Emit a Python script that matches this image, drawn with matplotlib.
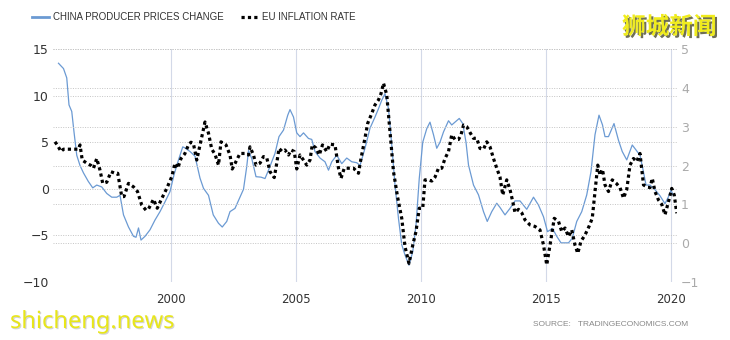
import matplotlib
matplotlib.use('Agg')
import matplotlib.pyplot as plt
import matplotlib.patheffects as pe
from matplotlib.lines import Line2D

# China PPI, yoy % (left axis)
ppi_year = [1995.5, 1995.7, 1995.83, 1995.92, 1996.03, 1996.12, 1996.23, 1996.36, 1996.5, 1996.69,
            1996.87, 1997.03, 1997.23, 1997.43, 1997.63, 1997.83, 1997.96, 1998.1, 1998.3, 1998.5,
            1998.6, 1998.7, 1998.8, 1998.96, 1999.16, 1999.36, 1999.56, 1999.76, 1999.96, 2000.12,
            2000.3, 2000.47, 2000.55, 2000.76, 2000.96, 2001.16, 2001.3, 2001.5, 2001.69, 2001.9,
            2002.05, 2002.23, 2002.36, 2002.56, 2002.76, 2002.9, 2003.03, 2003.1, 2003.23, 2003.4,
            2003.6, 2003.76, 2003.9, 2004.03, 2004.16, 2004.32, 2004.5, 2004.67, 2004.76, 2004.9,
            2005.03, 2005.16, 2005.3, 2005.5, 2005.63, 2005.76, 2005.96, 2006.16, 2006.3, 2006.43,
            2006.63, 2006.83, 2007.03, 2007.23, 2007.43, 2007.56, 2007.76, 2007.96, 2008.16, 2008.3,
            2008.43, 2008.56, 2008.7, 2008.83, 2008.96, 2009.1, 2009.23, 2009.36, 2009.52, 2009.67,
            2009.8, 2009.93, 2010.07, 2010.23, 2010.36, 2010.5, 2010.63, 2010.76, 2010.9, 2011.1,
            2011.23, 2011.36, 2011.53, 2011.67, 2011.8, 2011.9, 2012.1, 2012.3, 2012.5, 2012.65,
            2012.83, 2013.03, 2013.16, 2013.36, 2013.56, 2013.76, 2013.96, 2014.23, 2014.5, 2014.7,
            2014.9, 2015.06, 2015.26, 2015.43, 2015.6, 2015.9, 2016.05, 2016.23, 2016.43, 2016.63,
            2016.8, 2016.96, 2017.12, 2017.26, 2017.36, 2017.5, 2017.72, 2017.9, 2018.05, 2018.23,
            2018.45, 2018.63, 2018.76, 2018.9, 2019.0, 2019.16, 2019.36, 2019.56, 2019.76, 2019.89,
            2020.0, 2020.09]
ppi = [13.47, 12.9, 11.9, 9.0, 8.3, 6.1, 3.6, 2.5, 1.7, 0.8,
       0.1, 0.4, 0.2, -0.5, -0.9, -0.9, -0.7, -2.8, -4.1, -5.1,
       -5.2, -4.2, -5.5, -5.1, -4.4, -3.35, -2.45, -1.4, -0.3, 1.5,
       3.1, 4.5, 4.4, 4.0, 3.5, 1.15, 0.05, -0.7, -2.8, -3.7,
       -4.1, -3.5, -2.45, -2.1, -0.9, -0.05, 2.4, 4.1, 3.25, 1.3,
       1.25, 1.1, 2.0, 2.9, 3.8, 5.6, 6.3, 7.9, 8.5, 7.7,
       6.0, 5.6, 6.0, 5.4, 5.3, 4.0, 3.3, 2.9, 2.0, 2.9,
       3.6, 2.7, 3.3, 2.9, 2.8, 2.5, 4.35, 6.5, 7.7, 8.6,
       9.5, 10.2, 8.6, 4.7, 0.4, -3.2, -6.0, -7.1, -8.2, -6.75,
       -3.9, 1.1, 5.0, 6.45, 7.15, 5.8, 4.35, 5.0, 6.1, 7.3,
       6.85, 7.15, 7.55, 7.0, 5.0, 2.55, 0.4, -0.65, -2.45, -3.5,
       -2.45, -1.55, -2.0, -2.8, -2.1, -1.3, -1.3, -2.2, -0.9, -1.75,
       -3.0, -4.6, -4.25, -5.1, -5.8, -5.8, -5.3, -3.5, -2.45, -0.65,
       1.85, 5.8, 7.9, 6.85, 5.6, 5.6, 7.0, 5.2, 4.0, 3.1,
       4.7, 4.05, 3.6, 1.8, 0.4, 0.4, -0.1, -0.75, -1.6, -0.9,
       -0.15, -0.7]

# EU inflation rate, % (right axis)
eu_year = [1995.36, 1995.45, 1995.6, 1995.7, 1996.3, 1996.36, 1996.45, 1996.63, 1996.8, 1996.9,
           1997.03, 1997.16, 1997.27, 1997.43, 1997.6, 1997.76, 1997.87, 1998.03, 1998.12, 1998.3,
           1998.5, 1998.66, 1998.83, 1999.0, 1999.1, 1999.3, 1999.45, 1999.63, 1999.83, 2000.03,
           2000.16, 2000.27, 2000.4, 2000.55, 2000.7, 2000.8, 2000.9, 2001.03, 2001.16, 2001.27,
           2001.36, 2001.5, 2001.63, 2001.76, 2001.9, 2002.0, 2002.2, 2002.36, 2002.45, 2002.63,
           2002.76, 2002.96, 2003.1, 2003.16, 2003.3, 2003.4, 2003.56, 2003.7, 2003.83, 2003.96,
           2004.13, 2004.23, 2004.32, 2004.45, 2004.56, 2004.7, 2004.8, 2004.93, 2005.03, 2005.16,
           2005.3, 2005.43, 2005.56, 2005.65, 2005.8, 2005.93, 2006.06, 2006.23, 2006.36, 2006.56,
           2006.7, 2006.8, 2006.93, 2007.1, 2007.3, 2007.5, 2007.6, 2007.73, 2007.87, 2008.03,
           2008.16, 2008.3, 2008.4, 2008.5, 2008.63, 2008.76, 2008.9, 2009.06, 2009.23, 2009.36,
           2009.52, 2009.67, 2009.8, 2009.93, 2010.07, 2010.16, 2010.3, 2010.43, 2010.56, 2010.7,
           2010.83, 2010.96, 2011.1, 2011.23, 2011.36, 2011.5, 2011.6, 2011.7, 2011.83, 2011.96,
           2012.1, 2012.23, 2012.36, 2012.5, 2012.63, 2012.76, 2012.9, 2013.03, 2013.16, 2013.27,
           2013.43, 2013.56, 2013.67, 2013.76, 2013.9, 2014.03, 2014.16, 2014.36, 2014.56, 2014.76,
           2014.9, 2015.03, 2015.16, 2015.33, 2015.5, 2015.63, 2015.76, 2015.9, 2016.03, 2016.16,
           2016.27, 2016.4, 2016.56, 2016.72, 2016.85, 2016.96, 2017.07, 2017.16, 2017.26, 2017.36,
           2017.5, 2017.65, 2017.8, 2017.96, 2018.1, 2018.23, 2018.36, 2018.5, 2018.63, 2018.76,
           2018.9, 2019.03, 2019.16, 2019.25, 2019.36, 2019.5, 2019.63, 2019.76, 2019.9, 2020.03,
           2020.13, 2020.23]
eu = [2.61, 2.53, 2.36, 2.42, 2.42, 2.53, 2.14, 2.06, 2.0, 1.93,
      2.18, 1.88, 1.54, 1.57, 1.84, 1.8, 1.8, 1.2, 1.2, 1.54,
      1.45, 1.33, 0.98, 0.85, 0.88, 1.13, 0.9, 1.15, 1.41, 1.71,
      2.06, 1.93, 2.18, 2.3, 2.53, 2.6, 2.55, 2.14, 2.53, 2.87,
      3.12, 2.83, 2.42, 2.29, 2.01, 2.61, 2.53, 2.27, 1.91, 2.14,
      2.31, 2.31, 2.27, 2.48, 2.27, 2.01, 2.06, 2.23, 2.2, 1.84,
      1.69, 2.06, 2.44, 2.36, 2.4, 2.27, 2.4, 2.36, 1.91, 2.27,
      2.14, 2.01, 2.14, 2.53, 2.45, 2.27, 2.53, 2.36, 2.55, 2.53,
      1.93, 1.67, 1.93, 1.93, 1.93, 1.8, 2.18, 2.61, 3.09, 3.34,
      3.56, 3.69, 3.85, 4.12, 3.82, 2.87, 1.84, 1.2, 0.64, -0.09,
      -0.52, -0.05, 0.3, 0.9, 0.9, 1.63, 1.63, 1.6, 1.7, 1.93,
      1.93, 2.18, 2.36, 2.79, 2.67, 2.67, 2.79, 3.04, 3.0, 2.85,
      2.7, 2.7, 2.44, 2.42, 2.61, 2.48, 2.18, 1.93, 1.7, 1.24,
      1.63, 1.38, 1.07, 0.79, 0.87, 0.78, 0.6, 0.47, 0.43, 0.34,
      -0.05, -0.56, -0.05, 0.64, 0.56, 0.3, 0.39, 0.17, 0.34, -0.05,
      -0.26, 0.05, 0.21, 0.43, 0.64, 1.33, 2.01, 1.75, 1.9, 1.5,
      1.33, 1.63, 1.55, 1.43, 1.16, 1.38, 2.01, 2.18, 2.1, 2.31,
      1.5, 1.45, 1.43, 1.67, 1.33, 1.11, 1.0, 0.73, 1.07, 1.41,
      1.24, 0.77]

left_ticks = [-10, -5, 0, 5, 10, 15]
right_ticks = [-1, 0, 1, 2, 3, 4, 5]
year_ticks = [2000, 2005, 2010, 2015, 2020]

blue = '#6b9ad3'
grid_c = '#c4c4c4'

fig = plt.figure(figsize=(7.3, 3.4), dpi=100)
ax = fig.add_axes([53/730, 1 - 282/340, (677 - 53)/730, (282 - 49)/340])
ax2 = ax.twinx()

ax.plot(ppi_year, ppi, color=blue, lw=0.9)
ax2.plot(eu_year, eu, color='black', lw=2.3, linestyle=(0, (1, 1)))

ax.set_xlim(1995.28, 2020.24)
ax.set_ylim(-10, 15)
ax2.set_ylim(-1, 5)
ax.set_xticks(year_ticks)
ax.set_yticks(left_ticks)
ax2.set_yticks(right_ticks)

for a in (ax, ax2):
    for s in a.spines.values():
        s.set_visible(False)
    a.tick_params(length=0)

ax.grid(axis='x', color='#d3d9e8', lw=0.8, linestyle='-')
ax.grid(axis='y', color=grid_c, lw=0.7, linestyle=(0, (1, 1.5)))
ax2.grid(axis='y', color=grid_c, lw=0.7, linestyle=(0, (1, 1.5)))
ax.set_axisbelow(True)

ax.tick_params(axis='y', labelsize=9, labelcolor='#333333', pad=3)
ax.tick_params(axis='x', labelsize=8.5, labelcolor='#333333', pad=8)
ax2.tick_params(axis='y', labelsize=9, labelcolor='#aaaaaa', pad=3)

handles = [Line2D([], [], color=blue, lw=2),
           Line2D([], [], color='black', lw=2.3, linestyle=(0, (1, 1)))]
fig.legend(handles, ['CHINA PRODUCER PRICES CHANGE', 'EU INFLATION RATE'],
           loc='upper left', bbox_to_anchor=(32/730, 1 - 12/340), ncol=2, frameon=False,
           prop={'family': 'Liberation Sans', 'size': 7}, labelcolor='#333333',
           handlelength=1.7, handletextpad=0.5, columnspacing=1.7,
           borderpad=0, borderaxespad=0)

fig.text(688/730, 1 - 325/340, 'SOURCE:   TRADINGECONOMICS.COM', ha='right', va='center',
         fontsize=6, color='#888888', family='Liberation Sans')

fig.text(622/730, 1 - 27/340, '狮城新闻', ha='left', va='center', fontsize=17,
         fontweight='bold', color='#f0ec1c', family=['Noto Sans CJK SC', 'DejaVu Sans'],
         path_effects=[pe.withSimplePatchShadow(offset=(1.5, -1.5), shadow_rgbFace='#4a4a2a', alpha=0.8)])
fig.text(10/730, 1 - 322/340, 'shicheng.news', ha='left', va='center', fontsize=17,
         fontweight='light', color='#e8e61a', family='Noto Sans',
         path_effects=[pe.withSimplePatchShadow(offset=(0.8, -0.8), shadow_rgbFace='#aaaaaa', alpha=0.5)])

fig.savefig('out.png', dpi=100)
